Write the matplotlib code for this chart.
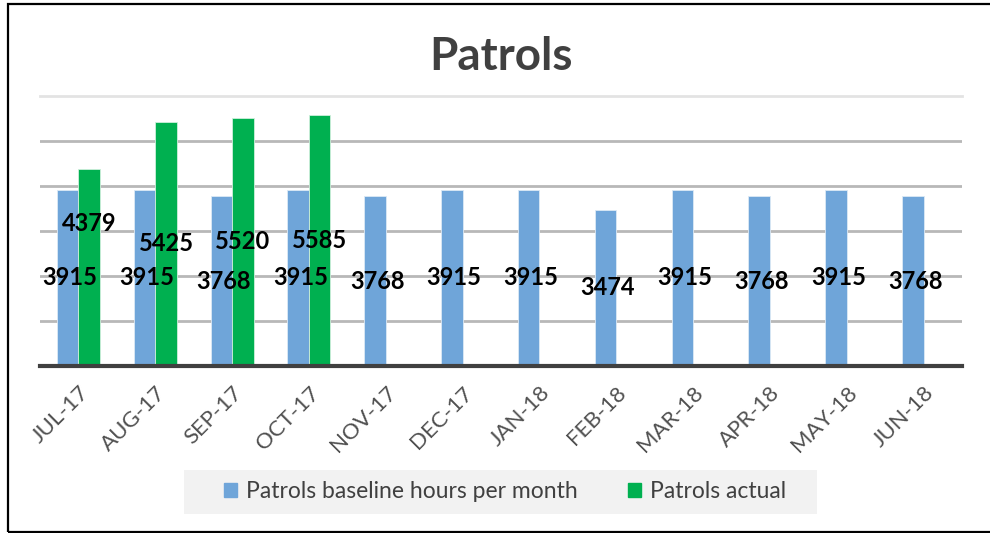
import matplotlib
matplotlib.use("Agg")
import matplotlib.pyplot as plt
from matplotlib.patches import Rectangle
import numpy as np

# monthly patrol hours
months = ["JUL-17", "AUG-17", "SEP-17", "OCT-17", "NOV-17", "DEC-17",
          "JAN-18", "FEB-18", "MAR-18", "APR-18", "MAY-18", "JUN-18"]
baseline = [3915, 3915, 3768, 3915, 3768, 3915, 3915, 3474, 3915, 3768, 3915, 3768]
actual = [4379, 5425, 5520, 5585]

blue = "#6FA5D9"
green = "#00B050"
plt.rcParams["font.family"] = ["Lato", "DejaVu Sans"]

fig = plt.figure(figsize=(9.9, 5.33), dpi=100)
ax = fig.add_axes([40 / 990, 167 / 533, 922 / 990, 270 / 533])

x = np.arange(len(months))
w = 0.28
ax.bar(x - w / 2, baseline, w, color=blue, edgecolor="#DCE9F5", linewidth=0.6, zorder=3)
ax.bar(x[:len(actual)] + w / 2, actual, w, color=green, edgecolor="#CFEFDC", linewidth=0.6, zorder=3)

# data labels, centred in the bars (first green one nudged up like the original)
for i, v in enumerate(baseline):
    ax.text(i - w / 2 + 0.03, v / 2, str(v), ha="center", va="center",
            fontsize=17, fontweight="bold", color="black", zorder=5)
green_frac = [0.725, 0.5, 0.5, 0.5]
for i, v in enumerate(actual):
    ax.text(i + w / 2, v * green_frac[i], str(v), ha="center", va="center",
            fontsize=17, fontweight="bold", color="black", zorder=5)

ax.set_xlim(-0.5, len(months) - 0.5)
ax.set_ylim(0, 6000)
ax.set_yticks([1000, 2000, 3000, 4000, 5000])
ax.set_yticklabels([])
ax.yaxis.grid(True, color="#B8B8B8", linewidth=2, zorder=0)
ax.tick_params(axis="y", length=0)

ax.set_xticks(x)
ax.set_xticklabels(months, rotation=45, ha="right", va="top",
                   rotation_mode="anchor", fontsize=16, color="#505050")
ax.tick_params(axis="x", length=0, pad=12)

for s in ["left", "right"]:
    ax.spines[s].set_visible(False)
ax.spines["top"].set_color("#E3E3E3")
ax.spines["top"].set_linewidth(2)
ax.spines["bottom"].set_color("#404040")
ax.spines["bottom"].set_linewidth(3)
ax.spines["bottom"].set_zorder(4)

fig.text(501 / 990, (533 - 57) / 533, "Patrols", ha="center", va="center",
         fontsize=33, fontweight="bold", color="#404040")

# legend with light grey band behind it
fig.patches.append(Rectangle((184 / 990, 19 / 533), 633 / 990, 44 / 533,
                             transform=fig.transFigure, facecolor="#F2F2F2",
                             edgecolor="none", zorder=0))
handles = [Rectangle((0, 0), 1, 1, color=blue), Rectangle((0, 0), 1, 1, color=green)]
fig.legend(handles, ["Patrols baseline hours per month", "Patrols actual"],
           loc="center", bbox_to_anchor=(505 / 990, 41 / 533), ncol=2, frameon=False,
           fontsize=16.5, handlelength=0.55, handleheight=0.55, handletextpad=0.4,
           columnspacing=2.2, labelcolor="#404040")

# outer frame (right side runs off the image)
fig.patches.append(Rectangle((8.3 / 990, 1.3 / 533), 1.1, 527.4 / 533,
                             transform=fig.transFigure, facecolor="none",
                             edgecolor="black", linewidth=1.6, clip_on=False))

fig.savefig("out.png", dpi=100)
